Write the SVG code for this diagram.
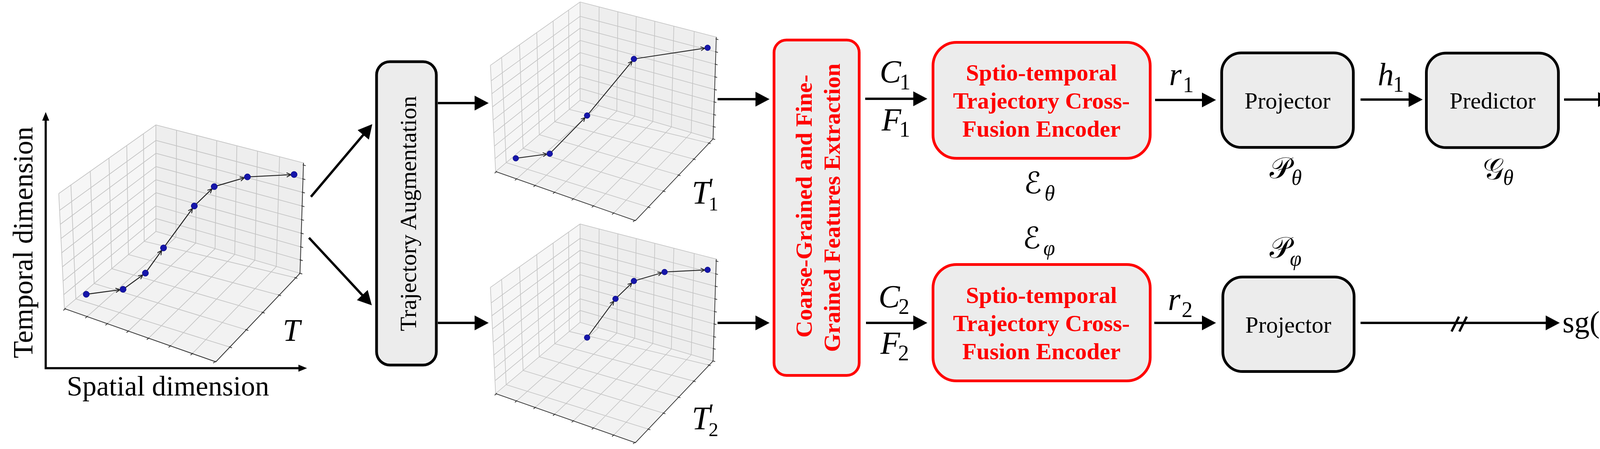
<svg xmlns="http://www.w3.org/2000/svg" xmlns:xlink="http://www.w3.org/1999/xlink" width="4368" height="1150" viewBox="0 0 4368 1150">
<style>
.lbl{font-family:"Liberation Serif","Times New Roman",serif;fill:#000;}
.it{font-style:italic;}
.scr{font-family:"DejaVu Sans","Noto Sans",sans-serif;fill:#000;}
.box{fill:#ececec;stroke:#000;stroke-width:7;}
.rbox{fill:#ececec;stroke:#ff0000;stroke-width:7;}
.rt{font-family:"Liberation Serif","Times New Roman",serif;font-weight:bold;fill:#ff0000;font-size:60px;}
.bt{font-family:"Liberation Serif","Times New Roman",serif;fill:#000;font-size:60px;}
.conn{stroke:#000;stroke-width:6;fill:none;marker-end:url(#ah);}
.grid{stroke:#c4c4c4;stroke-width:1.8;fill:none;}
.ax3{stroke:#333;stroke-width:2;fill:none;}
.traj{stroke:#222;stroke-width:2.4;fill:none;marker-end:url(#ta);}
.pt{fill:#1616aa;stroke:#00007a;stroke-width:1;}
</style>
<defs>
<marker id="ah" viewBox="0 0 36 38" refX="4" refY="19" markerWidth="36" markerHeight="38" markerUnits="userSpaceOnUse" orient="auto"><path d="M0,0 L36,19 L0,38 Z" fill="#000"/></marker>
<marker id="ahs" viewBox="0 0 22 18" refX="3" refY="9" markerWidth="22" markerHeight="18" markerUnits="userSpaceOnUse" orient="auto-start-reverse"><path d="M0,0 L22,9 L0,18 Z" fill="#000"/></marker>
<marker id="ta" viewBox="-13 -7 14 14" refX="0" refY="0" markerWidth="14" markerHeight="14" markerUnits="userSpaceOnUse" orient="auto" overflow="visible"><path d="M-11,-5.5 L0,0 L-11,5.5" fill="none" stroke="#222" stroke-width="2.2"/></marker>
<g id="box3d">
<path d="M150.4,495.8 L399.1,319.9 L399.1,592.7 L164.9,790.4 Z" fill="#f6f6f6"/>
<path d="M399.1,319.9 L776,417 L768,700 L399.1,592.7 Z" fill="#eeeeee"/>
<path d="M399.1,592.7 L164.9,790.4 L552.5,926.8 L768,700 Z" fill="#f2f2f2"/>
<path class="grid" d="M150.4,495.8 L399.1,319.9 L776,417 M399.1,319.9 L399.1,592.7 M164.9,790.4 L399.1,592.7 L768,700 M150.4,495.8 L164.9,790.4
M181.5,473.8 L194.2,765.7 M231.2,438.6 L241.0,726.2 M279.0,404.9 L286.0,688.2 M324.5,372.7 L328.8,652.0 M367.3,342.4 L369.1,618.0
M152.5,538.8 L399.1,359.7 M154.3,574.5 L399.1,392.7 M156.1,611.0 L399.1,426.6 M157.9,647.5 L399.1,460.4 M159.6,683.5 L399.1,493.7 M161.4,720.0 L399.1,527.5 M163.1,754.8 L399.1,559.7
M451.9,333.5 L450.5,607.7 M503.9,346.9 L501.1,622.5 M554.8,360.0 L550.6,637.0 M606.4,373.3 L600.9,651.7 M659.2,386.9 L652.3,666.7 M715.7,401.5 L707.3,682.8
M399.1,359.7 L775.7,458.3 M399.1,392.7 L774.6,492.6 M399.1,426.6 L773.5,527.7 M399.1,460.4 L772.4,562.7 M399.1,493.7 L771.3,597.3 M399.1,527.5 L770.2,632.4 M399.1,559.7 L769.1,665.8
M223.0,810.9 L450.5,607.7 M274.6,829.0 L501.1,622.5 M328.5,848.0 L550.6,637.0 M380.4,866.2 L600.9,651.7 M436.2,885.9 L652.3,666.7 M492.4,905.7 L707.3,682.8
M194.2,765.7 L588.2,888.9 M241.0,726.2 L630.0,844.5 M286.0,688.2 L671.8,800.0 M328.8,652.0 L713.7,755.6 M369.1,618.0 L755.5,711.1"/>
<path class="ax3" d="M164.9,790.4 L552.5,926.8 L768,700 M777,417 L768,700"/>
<path class="ax3" stroke-width="1.8" d="M168.3,789.8 L162.2,795.0 M224.5,809.6 L218.4,814.8 M276.1,827.7 L270.0,832.9 M330.0,846.7 L323.9,851.9 M381.9,864.9 L375.8,870.1 M437.7,884.6 L431.6,889.8 M493.9,904.4 L487.8,909.6 M552.1,924.8 L546.0,930.0
M586.3,888.2 L593.9,890.9 M628.1,843.8 L635.7,846.5 M669.9,799.3 L677.5,802.0 M711.8,754.9 L719.4,757.6 M753.6,710.4 L761.2,713.1
M774.9,422.1 L782.6,424.4 M773.8,457.7 L781.5,460.0 M772.7,492.0 L780.4,494.3 M771.6,527.1 L779.3,529.4 M770.5,562.1 L778.2,564.4 M769.4,596.7 L777.1,599.0 M768.3,631.8 L776.0,634.1 M767.2,665.2 L774.9,667.5 M766.1,699.4 L773.8,701.7"/>
</g>
</defs>
<rect width="4368" height="1150" fill="#ffffff"/>

<g id="plot-T">
<use href="#box3d" xlink:href="#box3d"/>
<path class="traj" d="M220.8,753.7 L307.1,742.1"/>
<path class="traj" d="M315.0,741.0 L365.7,704.2"/>
<path class="traj" d="M372.2,699.5 L413.9,641.5"/>
<path class="traj" d="M418.6,635.0 L492.7,534.0"/>
<path class="traj" d="M497.4,527.5 L542.7,483.6"/>
<path class="traj" d="M548.4,478.0 L625.7,455.3"/>
<path class="traj" d="M633.4,453.1 L744.8,447.4"/>
<circle class="pt" cx="220.8" cy="753.7" r="8"/>
<circle class="pt" cx="315.0" cy="741.0" r="8"/>
<circle class="pt" cx="372.2" cy="699.5" r="8"/>
<circle class="pt" cx="418.6" cy="635.0" r="8"/>
<circle class="pt" cx="497.4" cy="527.5" r="8"/>
<circle class="pt" cx="548.4" cy="478.0" r="8"/>
<circle class="pt" cx="633.4" cy="453.1" r="8"/>
<circle class="pt" cx="752.8" cy="447.0" r="8"/>
<text class="lbl it" x="724" y="873" font-size="80">T</text>
<text class="lbl" transform="translate(83,621) rotate(-90)" text-anchor="middle" font-size="72">Temporal dimension</text>
<text class="lbl" x="430" y="1013" text-anchor="middle" font-size="72">Spatial dimension</text>
</g>

<g id="plot-T1">
<g transform="matrix(0.923 0 0 0.923 1116.6 -290.2)">
<use href="#box3d" xlink:href="#box3d"/>
<path class="traj" d="M220.8,753.7 L307.1,742.1"/>
<path class="traj" d="M315.0,741.0 L413.0,640.7"/>
<path class="traj" d="M418.6,635.0 L543.3,484.2"/>
<path class="traj" d="M548.4,478.0 L744.9,448.2"/>
<circle class="pt" cx="220.8" cy="753.7" r="8"/>
<circle class="pt" cx="315.0" cy="741.0" r="8"/>
<circle class="pt" cx="418.6" cy="635.0" r="8"/>
<circle class="pt" cx="548.4" cy="478.0" r="8"/>
<circle class="pt" cx="752.8" cy="447.0" r="8"/>
</g>
<text class="lbl it" x="1771" y="522" font-size="84">T</text>
<text class="lbl" x="1814" y="539" font-size="50">1</text>
<text class="lbl" x="1814" y="500" font-size="64">′</text>
</g>

<g id="plot-T2">
<g transform="matrix(0.923 0 0 0.923 1116.6 278.5)">
<use href="#box3d" xlink:href="#box3d"/>
<path class="traj" d="M418.6,635.0 L492.7,534.0"/>
<path class="traj" d="M497.4,527.5 L542.7,483.6"/>
<path class="traj" d="M548.4,478.0 L625.7,455.3"/>
<path class="traj" d="M633.4,453.1 L744.8,447.4"/>
<circle class="pt" cx="418.6" cy="635.0" r="8"/>
<circle class="pt" cx="497.4" cy="527.5" r="8"/>
<circle class="pt" cx="548.4" cy="478.0" r="8"/>
<circle class="pt" cx="633.4" cy="453.1" r="8"/>
<circle class="pt" cx="752.8" cy="447.0" r="8"/>
</g>
<text class="lbl it" x="1771" y="1100" font-size="84">T</text>
<text class="lbl" x="1814" y="1117" font-size="50">2</text>
<text class="lbl" x="1814" y="1078" font-size="64">′</text>
</g>

<g id="traj-aug">
<rect class="box" x="964" y="158" width="153" height="777" rx="34" stroke-width="8"/>
<text class="bt" transform="translate(1065,547) rotate(-90)" text-anchor="middle">Trajectory Augmentation</text>
</g>

<g id="coarse-fine">
<rect class="rbox" x="1981.5" y="102.5" width="218" height="859" rx="32"/>
<text class="rt" transform="translate(2078,528) rotate(-90)" text-anchor="middle">Coarse-Grained and Fine-</text>
<text class="rt" transform="translate(2150,532) rotate(-90)" text-anchor="middle">Grained Features Extraction</text>
</g>

<g id="encoder-theta">
<rect class="rbox" x="2388.5" y="108.5" width="556" height="297" rx="60"/>
<text class="rt" x="2666" y="206" text-anchor="middle">Sptio-temporal</text>
<text class="rt" x="2666" y="278" text-anchor="middle">Trajectory Cross-</text>
<text class="rt" x="2666" y="350" text-anchor="middle">Fusion Encoder</text>
<text class="scr" x="2621" y="495" font-size="76">ℰ</text>
<text class="lbl it" x="2674" y="513" font-size="54">θ</text>
</g>

<g id="encoder-phi">
<rect class="rbox" x="2388.5" y="677.5" width="556" height="298" rx="60"/>
<text class="rt" x="2666" y="776" text-anchor="middle">Sptio-temporal</text>
<text class="rt" x="2666" y="848" text-anchor="middle">Trajectory Cross-</text>
<text class="rt" x="2666" y="920" text-anchor="middle">Fusion Encoder</text>
<text class="scr" x="2618" y="636" font-size="76">ℰ</text>
<text class="lbl it" x="2671" y="653" font-size="54">φ</text>
</g>

<g id="projector-theta">
<rect class="box" x="3127.5" y="135.5" width="337" height="242" rx="50"/>
<text class="bt" x="3296" y="278" text-anchor="middle">Projector</text>
<text class="scr" x="3250" y="456" font-size="76">𝒫</text>
<text class="lbl it" x="3306" y="473" font-size="54">θ</text>
</g>

<g id="predictor">
<rect class="box" x="3651.5" y="136" width="338" height="242" rx="50"/>
<text class="bt" x="3821" y="278" text-anchor="middle">Predictor</text>
<text class="scr" x="3796" y="459" font-size="76">𝒢</text>
<text class="lbl it" x="3848" y="473" font-size="54">θ</text>
</g>

<g id="projector-phi">
<rect class="box" x="3130.5" y="709.5" width="336" height="242" rx="50"/>
<text class="bt" x="3298" y="852" text-anchor="middle">Projector</text>
<text class="scr" x="3250" y="660" font-size="76">𝒫</text>
<text class="lbl it" x="3302" y="680" font-size="54">φ</text>
</g>

<g id="labels">
<text class="lbl it" x="2252" y="211" font-size="82">C</text>
<text class="lbl" x="2303" y="229" font-size="56">1</text>
<text class="lbl it" x="2257" y="334" font-size="82">F</text>
<text class="lbl" x="2302" y="350" font-size="56">1</text>
<text class="lbl it" x="2249" y="787" font-size="82">C</text>
<text class="lbl" x="2300" y="804" font-size="56">2</text>
<text class="lbl it" x="2254" y="906" font-size="82">F</text>
<text class="lbl" x="2299" y="923" font-size="56">2</text>
<text class="lbl it" x="2993" y="218" font-size="82">r</text>
<text class="lbl" x="3028" y="236" font-size="56">1</text>
<text class="lbl it" x="2990" y="794" font-size="82">r</text>
<text class="lbl" x="3025" y="812" font-size="56">2</text>
<text class="lbl it" x="3527" y="218" font-size="82">h</text>
<text class="lbl" x="3566" y="235" font-size="56">1</text>
<text class="lbl it" x="4140" y="270" font-size="82">z</text>
<text class="lbl" x="4181" y="286" font-size="56">1</text>
<text class="lbl it" x="4200" y="545" font-size="58" textLength="100" lengthAdjust="spacingAndGlyphs">loss</text>
<text class="lbl" y="851" font-size="78"><tspan x="4000">sg(</tspan><tspan font-style="italic" x="4110">h</tspan><tspan x="4197">)</tspan></text>
<text class="lbl" x="4151" y="815" font-size="56">′</text>
<text class="lbl" x="4153" y="867" font-size="52">2</text>
</g>

<g id="connectors">
<path d="M117,306 L117,943 L767,943" fill="none" stroke="#000" stroke-width="5.5" marker-start="url(#ahs)" marker-end="url(#ahs)"/>
<path class="conn" d="M796,504 L932.4,342.5"/>
<path class="conn" d="M791,609 L930.1,758.6"/>
<path class="conn" d="M1121,264 L1219,264"/>
<path class="conn" d="M1121,827 L1219,827"/>
<path class="conn" d="M1837,254 L1938,254"/>
<path class="conn" d="M1837,827 L1938,827"/>
<path class="conn" d="M2215,253 L2342,253"/>
<path class="conn" d="M2217,827 L2342,827"/>
<path class="conn" d="M2957,256 L3081,256"/>
<path class="conn" d="M2955,827 L3081,827"/>
<path class="conn" d="M3483,255 L3610,255"/>
<path class="conn" d="M4004,255 L4095,255"/>
<path class="conn" d="M3483,827 L3961,827"/>
<path d="M3716,849 L3735,811 M3736,849 L3755,811" fill="none" stroke="#000" stroke-width="6"/>
<path d="M4226,240 C4300,248 4352,400 4347,540 C4343,680 4312,758 4266,798" fill="none" stroke="#000" stroke-width="5" stroke-dasharray="24 14"/>
<polygon points="4237,822 4260,796 4270,823" fill="#000"/>
</g>
</svg>
